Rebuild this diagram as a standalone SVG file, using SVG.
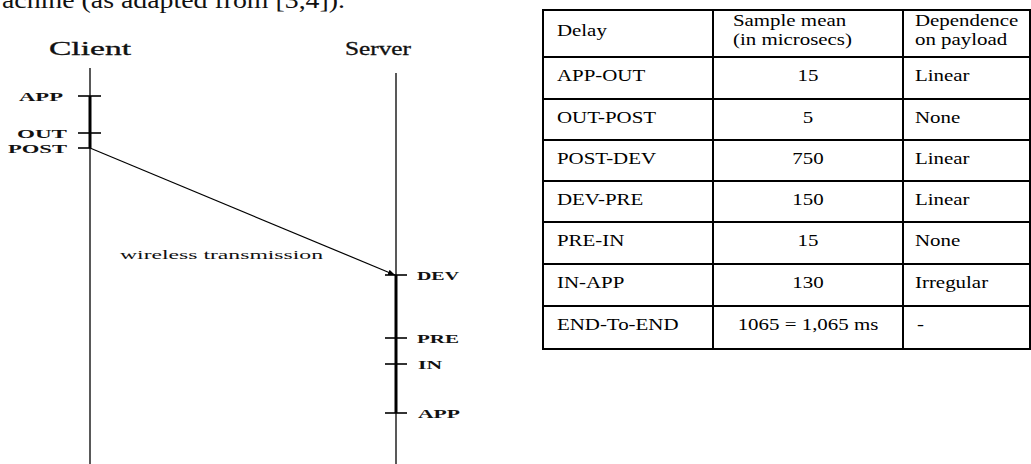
<svg xmlns="http://www.w3.org/2000/svg" width="1031" height="464" viewBox="0 0 1031 464">
<style>
.lbl{font-family:"Liberation Serif","Times New Roman",serif;fill:#111}
.ev{font-family:"Liberation Serif","Times New Roman",serif;font-size:13px;font-weight:bold;fill:#111}
.life{stroke:#222;stroke-width:1.5;fill:none}
.busy{stroke:#000;stroke-width:3;fill:none}
.tick{stroke:#000;stroke-width:1.6}
.tb{font-family:"Liberation Serif","Times New Roman",serif;font-size:17px;fill:#000}
.grid{stroke:#000;stroke-width:2;fill:none}
</style>
<defs>
<marker id="ah" viewBox="0 0 10 10" refX="10" refY="5" markerWidth="7" markerHeight="7" orient="auto" markerUnits="userSpaceOnUse">
<path d="M0,1 L10,5 L0,9 z" fill="#000"/>
</marker>
</defs>
<rect width="1031" height="464" fill="#fff"/>
<text class="lbl" x="2" y="8" font-size="24" textLength="343" lengthAdjust="spacingAndGlyphs">achine (as adapted from [3,4]).</text>

<g id="client">
<text class="lbl" x="49" y="55" font-size="18" stroke="#111" stroke-width="0.3" textLength="82" lengthAdjust="spacingAndGlyphs">Client</text>
<line class="life" x1="90" y1="68" x2="90" y2="464"/>
<line class="busy" x1="90" y1="96" x2="90" y2="148"/>
</g>
<g id="client-app"><line class="tick" x1="78" y1="96" x2="101" y2="96"/><text class="ev" x="19" y="101" textLength="44" lengthAdjust="spacingAndGlyphs">APP</text></g>
<g id="client-out"><line class="tick" x1="78" y1="133" x2="101" y2="133"/><text class="ev" x="17" y="138" textLength="50" lengthAdjust="spacingAndGlyphs">OUT</text></g>
<g id="client-post"><line class="tick" x1="78" y1="148" x2="90" y2="148"/><text class="ev" x="8" y="153" textLength="59" lengthAdjust="spacingAndGlyphs">POST</text></g>

<g id="server">
<text class="lbl" x="345" y="55" font-size="18" stroke="#111" stroke-width="0.3" textLength="66" lengthAdjust="spacingAndGlyphs">Server</text>
<line class="life" x1="396" y1="73" x2="396" y2="464"/>
<line class="busy" x1="396" y1="275" x2="396" y2="413"/>
</g>
<g id="server-dev"><line class="tick" x1="385" y1="275" x2="407" y2="275"/><text class="ev" x="417" y="280" textLength="42" lengthAdjust="spacingAndGlyphs">DEV</text></g>
<g id="server-pre"><line class="tick" x1="385" y1="338" x2="407" y2="338"/><text class="ev" x="417" y="343" textLength="42" lengthAdjust="spacingAndGlyphs">PRE</text></g>
<g id="server-in"><line class="tick" x1="385" y1="364" x2="407" y2="364"/><text class="ev" x="418" y="369" textLength="24" lengthAdjust="spacingAndGlyphs">IN</text></g>
<g id="server-app"><line class="tick" x1="385" y1="413" x2="407" y2="413"/><text class="ev" x="418" y="418" textLength="42" lengthAdjust="spacingAndGlyphs">APP</text></g>

<g id="connectors">
<line x1="90" y1="148" x2="395" y2="275" stroke="#000" stroke-width="1.2" marker-end="url(#ah)"/>
<text class="lbl" x="120" y="259" font-size="12" textLength="203" lengthAdjust="spacingAndGlyphs">wireless transmission</text>
</g>

<g id="table">
<rect class="grid" x="543" y="10" width="487" height="339"/>
<line class="grid" x1="713" y1="10" x2="713" y2="349"/>
<line class="grid" x1="903" y1="10" x2="903" y2="349"/>
<line class="grid" x1="543" y1="57" x2="1030" y2="57"/>
<line class="grid" x1="543" y1="99" x2="1030" y2="99"/>
<line class="grid" x1="543" y1="140" x2="1030" y2="140"/>
<line class="grid" x1="543" y1="181" x2="1030" y2="181"/>
<line class="grid" x1="543" y1="222" x2="1030" y2="222"/>
<line class="grid" x1="543" y1="264" x2="1030" y2="264"/>
<line class="grid" x1="543" y1="306" x2="1030" y2="306"/>
<g transform="scale(1.23 1)">
<text class="tb" x="452.8" y="36">Delay</text>
<text class="tb" x="595.9" y="26">Sample mean</text>
<text class="tb" x="595.9" y="45">(in microsecs)</text>
<text class="tb" x="743.9" y="26">Dependence</text>
<text class="tb" x="743.9" y="45">on payload</text>

<text class="tb" x="452.8" y="81">APP-OUT</text>
<text class="tb" x="656.9" y="81" text-anchor="middle">15</text>
<text class="tb" x="743.9" y="81">Linear</text>

<text class="tb" x="452.8" y="123">OUT-POST</text>
<text class="tb" x="656.9" y="123" text-anchor="middle">5</text>
<text class="tb" x="743.9" y="123">None</text>

<text class="tb" x="452.8" y="164">POST-DEV</text>
<text class="tb" x="656.9" y="164" text-anchor="middle">750</text>
<text class="tb" x="743.9" y="164">Linear</text>

<text class="tb" x="452.8" y="205">DEV-PRE</text>
<text class="tb" x="656.9" y="205" text-anchor="middle">150</text>
<text class="tb" x="743.9" y="205">Linear</text>

<text class="tb" x="452.8" y="246">PRE-IN</text>
<text class="tb" x="656.9" y="246" text-anchor="middle">15</text>
<text class="tb" x="743.9" y="246">None</text>

<text class="tb" x="452.8" y="288">IN-APP</text>
<text class="tb" x="656.9" y="288" text-anchor="middle">130</text>
<text class="tb" x="743.9" y="288">Irregular</text>

<text class="tb" x="452.8" y="330">END-To-END</text>
<text class="tb" x="656.9" y="330" text-anchor="middle">1065 = 1,065 ms</text>
<text class="tb" x="745.5" y="330">-</text>
</g>
</g>
</svg>
